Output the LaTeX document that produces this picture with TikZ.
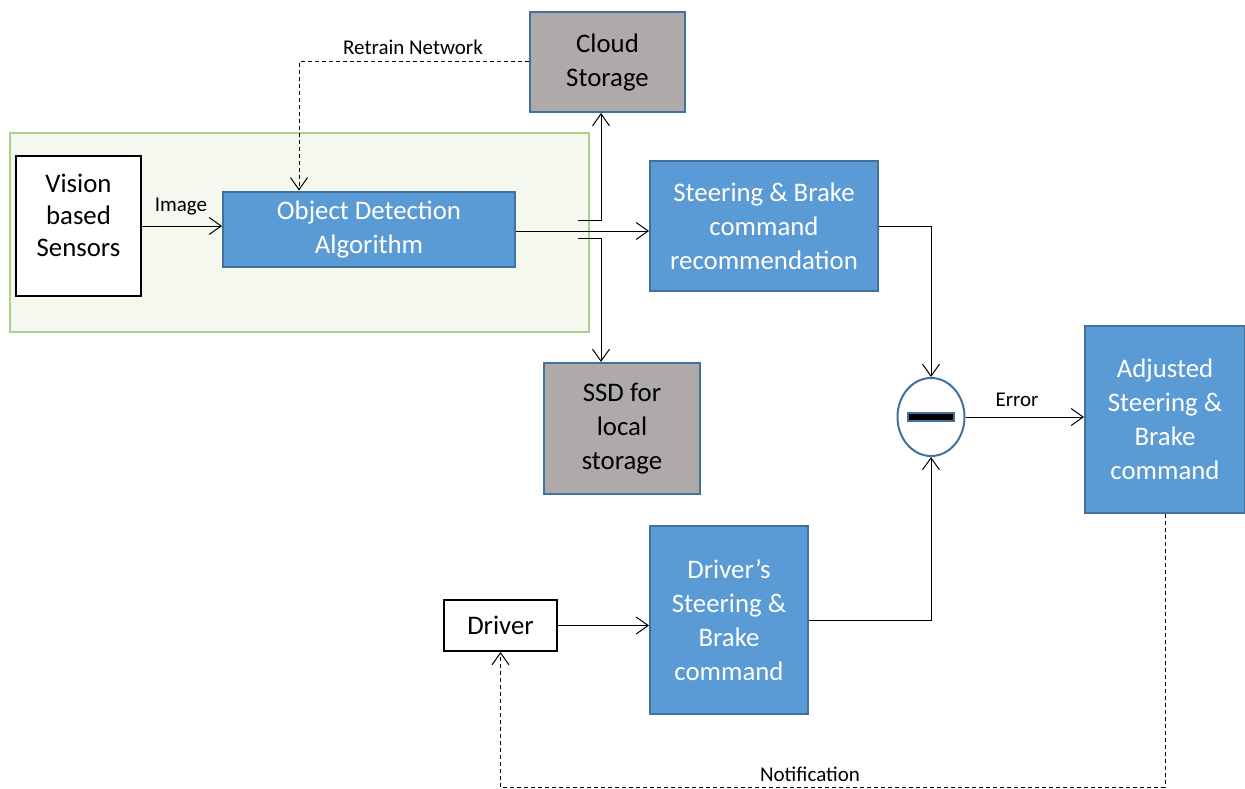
\documentclass[tikz,border=0pt]{standalone}
\usepackage{fontspec}
\setmainfont{Carlito}
\usetikzlibrary{arrows.meta,shapes.geometric}
\definecolor{bluefill}{HTML}{5B9BD5}
\definecolor{blueedge}{HTML}{41719C}
\definecolor{grayfill}{HTML}{AEAAAA}
\definecolor{greenfill}{HTML}{F4F8EF}
\definecolor{greenedge}{HTML}{A9D18E}
\tikzset{
  box/.style={draw, rectangle, inner sep=0pt, align=center, font=\fontsize{26.8}{34}\selectfont},
  bluebox/.style={box, fill=bluefill, draw=blueedge, line width=2pt, text=white},
  graybox/.style={box, fill=grayfill, draw=blueedge, line width=2pt, text=black},
  whitebox/.style={box, fill=white, draw=black, line width=2pt},
  arr/.style={-{Straight Barb[length=12pt,width=17pt]}, line width=1pt},
  dashline/.style={dash pattern=on 4pt off 3pt},
  lbl/.style={font=\fontsize{21}{26}\selectfont, inner sep=0pt}
}
\begin{document}
\begin{tikzpicture}[x=1pt,y=-1pt]
\useasboundingbox (0,0) rectangle (1245,789);
\fill[white] (0,0) rectangle (1245,789);
% green container
\draw[fill=greenfill, draw=greenedge, line width=2pt] (10,133) rectangle (589,332);
% nodes
\node[whitebox, minimum width=125pt, minimum height=140pt] (vis) at (78.5,226) {};
\node[align=center, inner sep=0pt, font=\fontsize{26.8}{32}\selectfont] (vistext) at (78.5,215) {Vision\\based\\Sensors};
\node[bluebox, minimum width=292pt, minimum height=75pt] (obj) at (369,229) {Object Detection\\Algorithm};
\node[graybox, minimum width=155pt, minimum height=100pt] (cloud) at (607.5,62) {Cloud\\Storage};
\node[bluebox, minimum width=228pt, minimum height=130pt] (steer) at (764,226) {Steering \& Brake\\command\\recommendation};
\node[graybox, minimum width=156pt, minimum height=131pt] (ssd) at (622,428.5) {SSD for\\local\\storage};
\node[ellipse, draw=blueedge, fill=white, line width=2pt, minimum width=67pt, minimum height=78pt, inner sep=0pt] (minus) at (931,417) {};
\node[rectangle, draw=blueedge, fill=black, line width=1.5pt, minimum width=46pt, minimum height=8pt, inner sep=0pt] (bar) at (931,417) {};
\node[bluebox, minimum width=160pt, minimum height=187pt] (adj) at (1165,419.5) {Adjusted\\Steering \&\\Brake\\command};
\node[whitebox, minimum width=113pt, minimum height=51pt] (drv) at (500.5,625.5) {Driver};
\node[bluebox, minimum width=158pt, minimum height=188pt] (dcmd) at (729,620) {Driver’s\\Steering \&\\Brake\\command};
% connectors
\draw[arr] (vis.east) -- (vis.east -| obj.west);
\node[lbl] (limage) at (181,207) {Image};
\coordinate (o1) at ([yshift=-2pt]obj.east);
\draw[arr] (o1) -- (o1 -| steer.west);
\coordinate (jc) at (578,220);
\coordinate (jcu) at (601,220);
\draw[arr] (jc) -- (jcu) -- (jcu |- cloud.south);
\coordinate (js) at (578,238);
\coordinate (jsd) at (601,238);
\draw[arr] (js) -- (jsd) -- (jsd |- ssd.north);
\coordinate (rt) at (299,62);
\draw[arr, dashline] (cloud.west) -- (rt) -- (rt |- obj.north);
\node[lbl] (lretrain) at (413,47) {Retrain Network};
\draw[arr] (steer.east) -| (minus.north);
\draw[arr] (dcmd.east) -| (minus.south);
\draw[arr] (minus.east) -- (minus.east -| adj.west);
\node[lbl] (lerror) at (1017,400) {Error};
\draw[arr] (drv.east) -- (drv.east -| dcmd.west);
\coordinate (nb) at (1163,787);
\draw[arr, dashline] (adj.south) -- (adj.south |- nb) -- (drv.south |- nb) -- (drv.south);
\node[lbl] (lnotif) at (810,774) {Notification};
\end{tikzpicture}
\end{document}
